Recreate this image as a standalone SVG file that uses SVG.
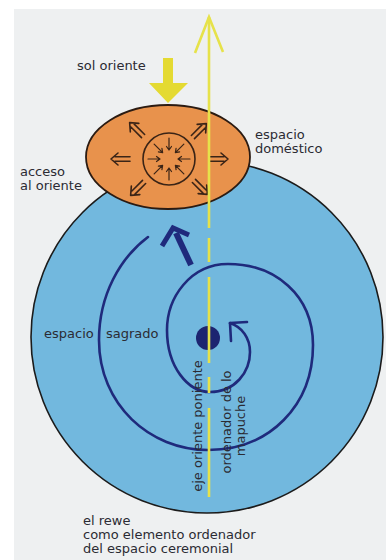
<svg xmlns="http://www.w3.org/2000/svg" width="386" height="560" viewBox="0 0 386 560">
<style>
text{font-family:"DejaVu Sans","Liberation Sans",sans-serif;font-size:13px;fill:#2b2b33}
.brown{stroke:#3a2416;fill:none;stroke-width:1.6;stroke-linecap:round;stroke-linejoin:round}
.navy{stroke:#1f2a7c;fill:none;stroke-width:2.6;stroke-linecap:round;stroke-linejoin:round}
.yl{stroke:#e6e24a;stroke-width:2.6;fill:none}
</style>
<defs>
<g id="da" class="brown"><path d="M-10,-2.2H5M-10,2.2H5M2,-6L9,0L2,6"/></g>
<g id="ia" class="brown" style="stroke-width:1.2"><path d="M21,0H9M12.5,-2.5L9,0L12.5,2.5"/></g>
</defs>
<rect width="386" height="560" fill="#ffffff"/>
<rect x="14" y="9" width="372" height="551" fill="#eef0f1"/>

<g id="espacio-sagrado">
<circle cx="207" cy="337" r="176" fill="#72b8de" stroke="#1b1b1b" stroke-width="1.6"/>
</g>

<g id="espacio-domestico">
<ellipse cx="168" cy="157" rx="82" ry="52" fill="#e8924c" stroke="#2b1b12" stroke-width="1.8"/>
<circle cx="169" cy="159" r="26" class="brown"/>
<g transform="translate(169,159)">
<use href="#ia" transform="rotate(0)"/>
<use href="#ia" transform="rotate(45)"/>
<use href="#ia" transform="rotate(90)"/>
<use href="#ia" transform="rotate(135)"/>
<use href="#ia" transform="rotate(180)"/>
<use href="#ia" transform="rotate(225)"/>
<use href="#ia" transform="rotate(270)"/>
<use href="#ia" transform="rotate(315)"/>
</g>
<use href="#da" transform="translate(120,159) rotate(180)"/>
<use href="#da" transform="translate(219,159)"/>
<use href="#da" transform="translate(136,129) rotate(-135)"/>
<use href="#da" transform="translate(200,130) rotate(-45)"/>
<use href="#da" transform="translate(137,189) rotate(135)"/>
<use href="#da" transform="translate(201,188) rotate(45)"/>
</g>

<g id="connectors">
<path class="navy" d="M148,237 C120,258 99,295 99,340 C99,405 150,450 208,450 C270,450 313,405 313,345 C313,295 275,264 228,264 C190,264 167,298 167,330 C167,367 188,392 210,392 C235,392 250,372 250,352 C250,338 242,327 230,323"/>
<path class="navy" d="M247,322 L230,323 L231,341"/>
<path class="navy" style="stroke-width:6;stroke-linecap:butt" d="M191,265 L176,233"/>
<path class="navy" style="stroke-width:5;stroke-linecap:butt;stroke-linejoin:miter" d="M162,246 L173,228 L189,235"/>
</g>

<g id="rewe">
<circle cx="208" cy="338" r="12" fill="#1c2470"/>
</g>

<g id="eje">
<path class="yl" d="M209,17 V228 M209,238 V262 M209,277 V363 M209,377 V393 M209,408 V497"/>
<path class="yl" d="M195,53 L209,17 L223,52"/>
</g>

<g id="sol-oriente">
<polygon points="163,58 173,58 173,83 188,83 168,103 149,83 163,83" fill="#e4da32"/>
<text x="77" y="70">sol oriente</text>
</g>

<g id="labels">
<text x="255" y="139">espacio</text>
<text x="255" y="153">doméstico</text>
<text x="20" y="176">acceso</text>
<text x="20" y="190">al oriente</text>
<text x="44" y="338">espacio</text>
<text x="106" y="338">sagrado</text>
<text transform="translate(202,426) rotate(-90)" text-anchor="middle">eje oriente poniente</text>
<text transform="translate(231,422) rotate(-90)" text-anchor="middle">ordenador de lo</text>
<text transform="translate(245,426) rotate(-90)" text-anchor="middle">mapuche</text>
<text x="83" y="525">el rewe</text>
<text x="83" y="539">como elemento ordenador</text>
<text x="83" y="553">del espacio ceremonial</text>
</g>
</svg>
